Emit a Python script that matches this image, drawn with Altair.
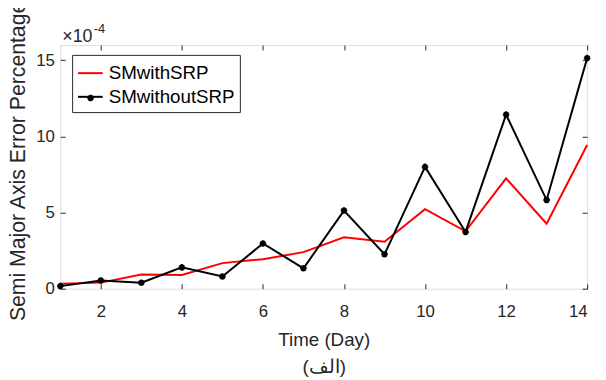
import altair as alt
import pandas as pd

# ---- data ----
days = list(range(1, 15))
sm_with_srp = [0.32, 0.40, 0.93, 0.90, 1.68, 1.94, 2.40, 3.38, 3.08, 5.22, 3.77, 7.25, 4.27, 9.44]
sm_without_srp = [0.17, 0.54, 0.39, 1.40, 0.80, 2.97, 1.34, 5.13, 2.26, 8.00, 3.73, 11.43, 5.82, 15.14]
series_names = ["SMwithSRP", "SMwithoutSRP"]
series_colors = ["#ff0000", "#000000"]
x_ticks = [2, 4, 6, 8, 10, 12, 14]
y_ticks = [0, 5, 10, 15]
x_domain = [1, 14]
y_domain = [0, 16]
exponent_base = "×10"
exponent = "-4"
x_title = ["Time (Day)", "(الف)"]
y_title = "Semi Major Axis Error Percentage"

df = pd.DataFrame({
    "day": days * 2,
    "value": sm_with_srp + sm_without_srp,
    "series": [series_names[0]] * len(days) + [series_names[1]] * len(days),
})
df_pts = pd.DataFrame({"day": days, "value": sm_without_srp, "mk": series_names[1]})
mult = pd.DataFrame({"t": [exponent_base], "e": [exponent]})

W, H = 534, 247
FONT = "Liberation Sans"
INK = "#262626"

xscale = alt.Scale(domain=x_domain, nice=False)
yscale = alt.Scale(domain=y_domain, nice=False)

LEG_X, LEG_Y, LEG_PAD, SYM = 12, 10, 5, 25
star = "M0,-1V1M-1,0H1M-0.7,-0.7L0.7,0.7M-0.7,0.7L0.7,-0.7"
STAR_SIZE = 44
star_half = STAR_SIZE ** 0.5 / 2

lines = alt.Chart(df).mark_line(strokeWidth=2).encode(
    x=alt.X("day:Q", scale=xscale, axis=alt.Axis(
        values=x_ticks, orient="bottom", offset=-5, tickSize=5, domain=False, grid=False,
        labelPadding=15, labelFontSize=17, labelColor=INK, tickColor=INK, labelFont=FONT,
        title=x_title, titleFontSize=19, titleFontWeight="normal", titleColor=INK, titleFont=FONT,
        titleLineHeight=27, titlePadding=12)),
    y=alt.Y("value:Q", scale=yscale, axis=alt.Axis(
        values=y_ticks, orient="left", offset=-5, tickSize=5, domain=False, grid=False,
        labelPadding=6, labelFontSize=17, labelColor=INK, tickColor=INK, labelFont=FONT,
        title=y_title, titleFontSize=21.5, titleFontWeight="normal", titleColor=INK, titleFont=FONT,
        titleX=-41, titleY=117.5, titleAngle=270, titleAlign="center", titleBaseline="alphabetic")),
    color=alt.Color("series:N", scale=alt.Scale(domain=series_names, range=series_colors),
                    legend=alt.Legend(
                        title=None, orient="none", legendX=LEG_X, legendY=LEG_Y,
                        symbolType="stroke", symbolSize=SYM * SYM, symbolStrokeWidth=2,
                        labelFontSize=19, labelFont=FONT, labelColor="#000000", labelOffset=5,
                        padding=LEG_PAD, rowPadding=0, strokeColor=INK, fillColor="white",
                        cornerRadius=0, zindex=1)),
)

pts = alt.Chart(df_pts).mark_point(filled=False, size=STAR_SIZE, strokeWidth=2, color="#000000", opacity=1).encode(
    x=alt.X("day:Q", scale=xscale, axis=alt.Axis(
        values=x_ticks, orient="top", offset=-5, tickSize=5, domain=False, grid=False,
        labels=False, tickColor=INK, title=None)),
    y=alt.Y("value:Q", scale=yscale, axis=alt.Axis(
        values=y_ticks, orient="right", offset=-5, tickSize=5, domain=False, grid=False,
        labels=False, tickColor=INK, title=None)),
    shape=alt.Shape("mk:N", scale=alt.Scale(domain=[series_names[1]], range=[star]),
                    legend=alt.Legend(
                        title=None, orient="none",
                        legendX=LEG_X + LEG_PAD + SYM / 2 - star_half,
                        legendY=LEG_Y + LEG_PAD + SYM * 1.5 - star_half,
                        labelExpr="''", labelFontSize=6, labelOffset=0, padding=0,
                        symbolSize=STAR_SIZE, symbolStrokeColor="#000000", symbolStrokeWidth=2,
                        zindex=2)),
)

base_txt = alt.Chart(mult).mark_text(align="left", baseline="alphabetic", fontSize=18,
                                     color=INK, font=FONT).encode(
    x=alt.value(2), y=alt.value(-3), text="t:N")
exp_txt = alt.Chart(mult).mark_text(align="left", baseline="alphabetic", fontSize=13,
                                    color=INK, font=FONT).encode(
    x=alt.value(34), y=alt.value(-12), text="e:N")

chart = alt.layer(lines, pts, base_txt, exp_txt).resolve_axis(
    x="independent", y="independent"
).properties(
    width=W, height=H,
    autosize=alt.AutoSizeParams(type="none"),
    padding={"left": 53, "top": 35, "right": 11, "bottom": 90},
).configure_view(stroke=INK, strokeWidth=1).configure(font=FONT, background="white")

chart.save("out.html", embed_options={"renderer": "svg", "actions": False})
